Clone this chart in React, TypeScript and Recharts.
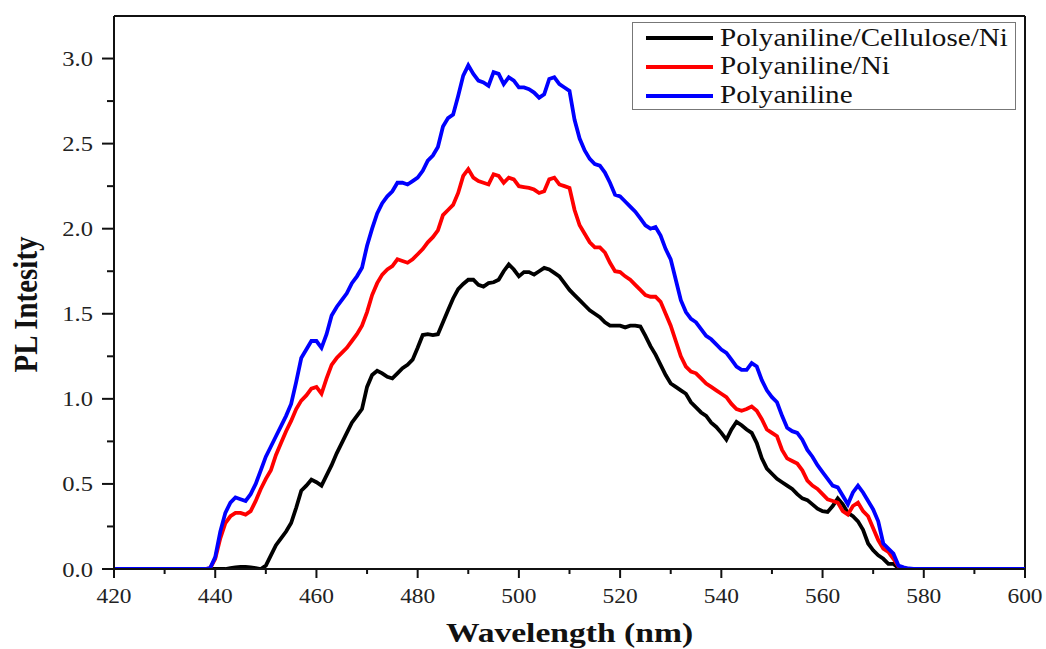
import React from 'react';
import { LineChart, Line, XAxis, YAxis, Legend, ReferenceLine } from 'recharts';

// wavelength grid (nm)
const wavelengths = [
  420,
  438, 439, 440, 441, 442, 443, 444, 445, 446, 447,
  448, 449, 450, 451, 452, 453, 454, 455, 456, 457,
  458, 459, 460, 461, 462, 463, 464, 465, 466, 467,
  468, 469, 470, 471, 472, 473, 474, 475, 476, 477,
  478, 479, 480, 481, 482, 483, 484, 485, 486, 487,
  488, 489, 490, 491, 492, 493, 494, 495, 496, 497,
  498, 499, 500, 501, 502, 503, 504, 505, 506, 507,
  508, 509, 510, 511, 512, 513, 514, 515, 516, 517,
  518, 519, 520, 521, 522, 523, 524, 525, 526, 527,
  528, 529, 530, 531, 532, 533, 534, 535, 536, 537,
  538, 539, 540, 541, 542, 543, 544, 545, 546, 547,
  548, 549, 550, 551, 552, 553, 554, 555, 556, 557,
  558, 559, 560, 561, 562, 563, 564, 565, 566, 567,
  568, 569, 570, 571, 572, 573, 574, 575, 576, 577, 578,
  600,
];

const pani = [
  0,
  0, 0.005, 0.07, 0.22, 0.33, 0.39, 0.42, 0.41, 0.40, 0.44,
  0.50, 0.58, 0.66, 0.72, 0.78, 0.84, 0.90, 0.97, 1.10, 1.24,
  1.29, 1.34, 1.34, 1.30, 1.38, 1.49, 1.54, 1.58, 1.62, 1.68,
  1.72, 1.77, 1.90, 2.00, 2.09, 2.15, 2.19, 2.22, 2.27, 2.27,
  2.26, 2.28, 2.30, 2.34, 2.40, 2.43, 2.48, 2.60, 2.65, 2.67,
  2.78, 2.90, 2.96, 2.91, 2.87, 2.86, 2.84, 2.92, 2.91, 2.85,
  2.89, 2.87, 2.83, 2.83, 2.82, 2.80, 2.77, 2.79, 2.88, 2.89,
  2.85, 2.83, 2.81, 2.64, 2.53, 2.46, 2.41, 2.38, 2.37, 2.33,
  2.27, 2.20, 2.19, 2.16, 2.13, 2.10, 2.06, 2.02, 2.00, 2.01,
  1.96, 1.88, 1.82, 1.70, 1.58, 1.51, 1.47, 1.45, 1.41, 1.37,
  1.35, 1.32, 1.29, 1.27, 1.23, 1.19, 1.17, 1.17, 1.21, 1.19,
  1.11, 1.05, 1.01, 0.98, 0.90, 0.83, 0.81, 0.80, 0.76, 0.70,
  0.66, 0.61, 0.57, 0.53, 0.49, 0.48, 0.43, 0.38, 0.45, 0.49,
  0.45, 0.40, 0.35, 0.28, 0.15, 0.12, 0.09, 0.02, 0.01, 0.003, 0,
  0,
];

const paniNi = [
  0,
  0, 0.005, 0.06, 0.18, 0.27, 0.31, 0.33, 0.33, 0.32, 0.34,
  0.40, 0.47, 0.53, 0.58, 0.67, 0.74, 0.81, 0.87, 0.94, 0.99,
  1.02, 1.06, 1.07, 1.03, 1.12, 1.20, 1.24, 1.27, 1.30, 1.34,
  1.38, 1.43, 1.51, 1.61, 1.68, 1.73, 1.76, 1.78, 1.82, 1.81,
  1.80, 1.82, 1.85, 1.88, 1.92, 1.95, 1.99, 2.08, 2.11, 2.14,
  2.21, 2.31, 2.35, 2.30, 2.28, 2.27, 2.26, 2.32, 2.31, 2.27,
  2.30, 2.29, 2.25, 2.245, 2.24, 2.23, 2.21, 2.22, 2.29, 2.30,
  2.26, 2.25, 2.24, 2.11, 2.02, 1.97, 1.92, 1.89, 1.89, 1.86,
  1.80, 1.75, 1.745, 1.72, 1.70, 1.67, 1.64, 1.61, 1.60, 1.60,
  1.57, 1.50, 1.43, 1.34, 1.25, 1.19, 1.16, 1.15, 1.12, 1.09,
  1.07, 1.05, 1.03, 1.01, 0.97, 0.94, 0.93, 0.94, 0.955, 0.93,
  0.88, 0.82, 0.80, 0.78, 0.70, 0.65, 0.635, 0.62, 0.58, 0.52,
  0.49, 0.47, 0.44, 0.41, 0.40, 0.39, 0.34, 0.32, 0.37, 0.39,
  0.34, 0.31, 0.24, 0.17, 0.12, 0.10, 0.06, 0.015, 0.005, 0, 0,
  0,
];

const paniCelluloseNi = [
  0,
  0, 0, 0, 0, 0, 0.005, 0.01, 0.012, 0.012, 0.01,
  0.005, 0, 0.02, 0.08, 0.14, 0.18, 0.22, 0.27, 0.36, 0.46,
  0.49, 0.525, 0.51, 0.49, 0.55, 0.61, 0.68, 0.74, 0.80, 0.86,
  0.90, 0.94, 1.07, 1.14, 1.165, 1.15, 1.13, 1.12, 1.15, 1.18,
  1.20, 1.23, 1.30, 1.375, 1.38, 1.375, 1.38, 1.45, 1.52, 1.59,
  1.645, 1.675, 1.70, 1.70, 1.67, 1.66, 1.68, 1.685, 1.70, 1.75,
  1.79, 1.76, 1.72, 1.745, 1.745, 1.73, 1.75, 1.77, 1.76, 1.74,
  1.72, 1.68, 1.64, 1.61, 1.58, 1.55, 1.52, 1.50, 1.48, 1.45,
  1.43, 1.43, 1.43, 1.42, 1.43, 1.43, 1.425, 1.37, 1.31, 1.26,
  1.20, 1.14, 1.09, 1.07, 1.05, 1.03, 0.98, 0.95, 0.92, 0.90,
  0.86, 0.835, 0.80, 0.76, 0.82, 0.865, 0.845, 0.82, 0.80, 0.74,
  0.65, 0.59, 0.56, 0.53, 0.51, 0.49, 0.47, 0.44, 0.415, 0.405,
  0.38, 0.355, 0.34, 0.335, 0.37, 0.415, 0.38, 0.33, 0.31, 0.28,
  0.23, 0.15, 0.11, 0.08, 0.06, 0.03, 0.03, 0.005, 0, 0, 0,
  0,
];

const xTicks = [420, 430, 440, 450, 460, 470, 480, 490, 500, 510, 520, 530, 540, 550, 560, 570, 580, 590, 600];
const xLabels = [420, 440, 460, 480, 500, 520, 540, 560, 580, 600];
const yTicks = [0, 0.25, 0.5, 0.75, 1.0, 1.25, 1.5, 1.75, 2.0, 2.25, 2.5, 2.75, 3.0];
const yLabels = [0, 0.5, 1.0, 1.5, 2.0, 2.5, 3.0];

const series = [
  { key: 'paniCelluloseNi', name: 'Polyaniline/Cellulose/Ni', color: '#000000' },
  { key: 'paniNi', name: 'Polyaniline/Ni', color: '#ff0000' },
  { key: 'pani', name: 'Polyaniline', color: '#0000ff' },
];

const data = wavelengths.map((w, i) => ({
  w,
  pani: pani[i],
  paniNi: paniNi[i],
  paniCelluloseNi: paniCelluloseNi[i],
}));

const FONT = '"Liberation Serif", "Times New Roman", serif';
const STRETCH = 1.17; // original figure is a bit wider than tall

const XTick = (props: any) => {
  const { x, y, payload } = props;
  const major = xLabels.includes(payload.value);
  return (
    <g>
      <line x1={x} y1={y} x2={x} y2={y + (major ? 9 : 5)} stroke="#111" strokeWidth={2} />
      {major && (
        <text
          transform={`translate(${x},${y + 34}) scale(${STRETCH},1)`}
          textAnchor="middle"
          fontFamily={FONT}
          fontSize={20}
          fill="#222"
        >
          {payload.value}
        </text>
      )}
    </g>
  );
};

const YTick = (props: any) => {
  const { x, y, payload } = props;
  const major = yLabels.includes(payload.value);
  return (
    <g>
      <line x1={x} y1={y} x2={x - (major ? 12 : 7)} y2={y} stroke="#111" strokeWidth={2} />
      {major && (
        <text
          transform={`translate(${x - 21},${y}) scale(${STRETCH},1)`}
          textAnchor="end"
          dy="0.36em"
          fontFamily={FONT}
          fontSize={21}
          fill="#222"
        >
          {payload.value.toFixed(1)}
        </text>
      )}
    </g>
  );
};

const XTitle = (props: any) => {
  const { viewBox } = props;
  const cx = viewBox.x + viewBox.width / 2;
  return (
    <text
      transform={`translate(${cx},${viewBox.y + 73}) scale(1.2,1)`}
      textAnchor="middle"
      fontFamily={FONT}
      fontWeight="bold"
      fontSize={28}
      fill="#111"
    >
      Wavelength (nm)
    </text>
  );
};

const YTitle = (props: any) => {
  const { viewBox } = props;
  const cy = viewBox.y + viewBox.height / 2 + 12;
  return (
    <text
      transform={`translate(37,${cy}) scale(1.18,1) rotate(-90)`}
      textAnchor="middle"
      fontFamily={FONT}
      fontWeight="bold"
      fontSize={29}
      fill="#111"
    >
      PL Intesity
    </text>
  );
};

const LegendBox = () => (
  <svg width={384} height={88} style={{ display: 'block' }}>
    <rect x={0.5} y={0.5} width={383} height={87} fill="#fff" stroke="#777" strokeWidth={1} />
    {series.map((s, i) => (
      <g key={s.key}>
        <line x1={14} x2={81} y1={16 + i * 29} y2={16 + i * 29} stroke={s.color} strokeWidth={3.8} />
        <text
          transform={`translate(88,${24 + i * 28.3}) scale(1.12,1)`}
          fontFamily={FONT}
          fontSize={26}
          fill="#111"
        >
          {s.name}
        </text>
      </g>
    ))}
  </svg>
);

export default function App() {
  return (
    <div style={{ position: 'absolute', left: 0, top: 0, background: '#fff' }}>
      <LineChart width={1046} height={649} data={data} margin={{ top: 16, right: 21, bottom: 40, left: 54 }}>
        <XAxis
          dataKey="w"
          type="number"
          domain={[420, 600]}
          ticks={xTicks}
          interval={0}
          tickSize={0}
          tickMargin={0}
          tick={<XTick />}
          stroke="#111"
          strokeWidth={2}
          height={40}
          label={<XTitle />}
        />
        <YAxis
          type="number"
          domain={[0, 3.25]}
          ticks={yTicks}
          interval={0}
          tickSize={0}
          tickMargin={0}
          tick={<YTick />}
          stroke="#111"
          strokeWidth={2}
          width={60}
          allowDataOverflow
          label={<YTitle />}
        />
        <ReferenceLine y={3.25} stroke="#111" strokeWidth={2} />
        <ReferenceLine x={600} stroke="#111" strokeWidth={2} />
        <Legend
          layout="vertical"
          align="center"
          verticalAlign="middle"
          wrapperStyle={{ position: 'absolute', top: 22, left: 632, width: 384, height: 88 }}
          content={<LegendBox />}
        />
        {series.map((s) => (
          <Line
            key={s.key}
            type="linear"
            dataKey={s.key}
            name={s.name}
            stroke={s.color}
            strokeWidth={3.8}
            dot={false}
            activeDot={false}
            isAnimationActive={false}
          />
        ))}
      </LineChart>
    </div>
  );
}
